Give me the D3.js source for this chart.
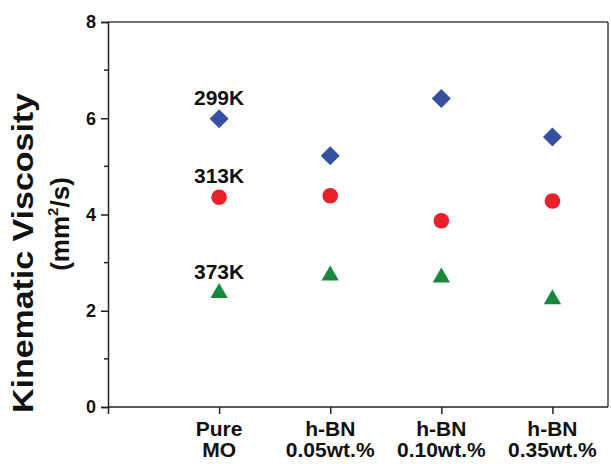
<!DOCTYPE html>
<html>
<head>
<meta charset="utf-8">
<script src="https://cdn.jsdelivr.net/npm/d3@7"></script>
<style>
  html, body { margin: 0; padding: 0; background: #fff; }
  svg { display: block; font-family: "Liberation Sans", Arial, Helvetica, sans-serif; }
</style>
</head>
<body>
<svg id="chart" width="611" height="464"></svg>
<script>
// ---- data ----
const categories = [["Pure", "MO"], ["h-BN", "0.05wt.%"], ["h-BN", "0.10wt.%"], ["h-BN", "0.35wt.%"]];
const seriesNames = ["299K", "313K", "373K"];
const v299 = [5.99, 5.22, 6.41, 5.61];
const v313 = [4.36, 4.39, 3.87, 4.28];
const v373 = [2.37, 2.73, 2.69, 2.24];
const yTicks = [0, 2, 4, 6, 8];
const yMinor = [1, 3, 5, 7];

const svg = d3.select("#chart");
const pL = 108, pR = 608, pT = 22, pB = 407;

const x = d3.scaleLinear().domain([-1, 3.5]).range([pL, pR]);
const y = d3.scaleLinear().domain([0, 8]).range([pB, pT]);

// frame (top & right)
svg.append("line").attr("x1", pL).attr("x2", pR).attr("y1", pT).attr("y2", pT)
  .attr("stroke", "#444").attr("stroke-width", 1.5);
svg.append("line").attr("x1", pR).attr("x2", pR).attr("y1", pT).attr("y2", pB)
  .attr("stroke", "#444").attr("stroke-width", 1.5);

// y axis
const yAxis = svg.append("g").attr("transform", `translate(${pL},0)`)
  .call(d3.axisLeft(y).tickValues(yTicks).tickSize(7).tickPadding(5).tickFormat(d3.format("d")));
yAxis.select(".domain").attr("stroke", "#222").attr("stroke-width", 1.5);
yAxis.selectAll(".tick line").attr("stroke", "#222").attr("stroke-width", 1.5);
yAxis.selectAll(".tick text").attr("font-size", 18).attr("font-weight", "bold").attr("fill", "#111")
  .attr("font-family", '"Liberation Sans", Arial, sans-serif');
yAxis.append("g").selectAll("line").data(yMinor).join("line")
  .attr("x1", -4).attr("x2", 0).attr("y1", d => y(d)).attr("y2", d => y(d))
  .attr("stroke", "#222").attr("stroke-width", 1.5);

// x axis
const xAxis = svg.append("g").attr("transform", `translate(0,${pB})`)
  .call(d3.axisBottom(x).tickValues([-1, 0, 1, 2, 3]).tickSize(7).tickFormat(""));
xAxis.select(".domain").attr("stroke", "#222").attr("stroke-width", 1.5).attr("d", `M${pL},0H${pR}`);
xAxis.selectAll(".tick line").attr("stroke", "#222").attr("stroke-width", 1.5);

const xl = svg.append("g").attr("font-size", 21).attr("font-weight", "bold").attr("fill", "#111")
  .attr("text-anchor", "middle");
categories.forEach((c, i) => {
  xl.append("text").attr("x", x(i)).attr("y", 436).text(c[0]);
  xl.append("text").attr("x", x(i)).attr("y", 457).text(c[1]);
});

// y title
svg.append("text").attr("transform", "translate(33,253) rotate(-90)")
  .attr("text-anchor", "middle").attr("font-size", 29).attr("font-weight", "bold").attr("fill", "#111")
  .attr("textLength", 320).attr("lengthAdjust", "spacingAndGlyphs")
  .text("Kinematic Viscosity");
const t2 = svg.append("text").attr("transform", "translate(69,224) rotate(-90)")
  .attr("text-anchor", "middle").attr("font-size", 26).attr("font-weight", "bold").attr("fill", "#111");
t2.append("tspan").text("(mm");
t2.append("tspan").attr("font-size", 15).attr("dy", -11).text("2");
t2.append("tspan").attr("dy", 11).text("/s)");

// markers
const g = svg.append("g");
const diamond = d3.symbol().type(d3.symbolSquare).size(180);
g.selectAll(".d").data(v299).join("path")
  .attr("d", diamond)
  .attr("transform", (d, i) => `translate(${x(i)},${y(d)}) rotate(45)`)
  .attr("fill", "#3550a2");
g.selectAll(".c").data(v313).join("circle")
  .attr("cx", (d, i) => x(i)).attr("cy", d => y(d)).attr("r", 7.8)
  .attr("fill", "#e8202a");
const tri = d3.symbol().type(d3.symbolTriangle).size(130);
g.selectAll(".t").data(v373).join("path")
  .attr("d", tri)
  .attr("transform", (d, i) => `translate(${x(i)},${y(d)})`)
  .attr("fill", "#17883a");

// series labels above Pure MO
const firsts = [v299[0], v313[0], v373[0]];
svg.append("g").selectAll("text").data(seriesNames).join("text")
  .attr("x", x(0)).attr("y", (d, i) => y(firsts[i]) - 14)
  .attr("text-anchor", "middle").attr("font-size", 21).attr("font-weight", "bold").attr("fill", "#111")
  .text(d => d);
</script>
</body>
</html>
